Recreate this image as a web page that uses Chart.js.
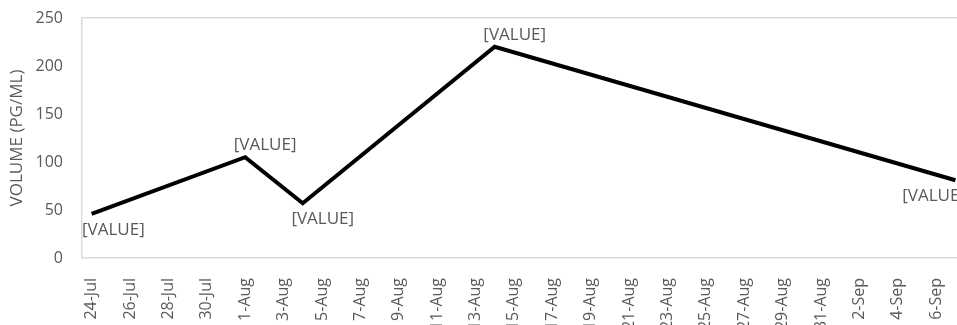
<!DOCTYPE html>
<html>
<head>
<meta charset="utf-8">
<script src="https://cdn.jsdelivr.net/npm/chart.js@4"></script>
<style>
  html, body { margin: 0; padding: 0; background: #fff; overflow: hidden; }
  #wrap { width: 965px; height: 325px; }
</style>
</head>
<body>
<div id="wrap"><canvas id="volChart"></canvas></div>
<script>
// every day on the axis, 24-Jul .. 7-Sep
const days = ['24-Jul','25-Jul','26-Jul','27-Jul','28-Jul','29-Jul','30-Jul','31-Jul',
  '1-Aug','2-Aug','3-Aug','4-Aug','5-Aug','6-Aug','7-Aug','8-Aug','9-Aug','10-Aug',
  '11-Aug','12-Aug','13-Aug','14-Aug','15-Aug','16-Aug','17-Aug','18-Aug','19-Aug',
  '20-Aug','21-Aug','22-Aug','23-Aug','24-Aug','25-Aug','26-Aug','27-Aug','28-Aug',
  '29-Aug','30-Aug','31-Aug','1-Sep','2-Sep','3-Sep','4-Sep','5-Sep','6-Sep','7-Sep'];

// measured samples
const sampleDates = ['24-Jul', '1-Aug', '4-Aug', '14-Aug', '7-Sep'];
const volumes = [46, 105, 57, 220, 81];
const pointLabel = '[VALUE]';

const yTicks = [0, 50, 100, 150, 200, 250];

const txt = '#595959';
const edge = '#d9d9d9';

// Excel style data labels: above peaks, below the rest, kept inside the plot
const valueLabels = {
  id: 'valueLabels',
  afterDatasetsDraw(chart){
    const ctx = chart.ctx;
    const area = chart.chartArea;
    const pts = chart.getDatasetMeta(0).data;
    ctx.save();
    ctx.font = '17px "Open Sans"';
    ctx.fillStyle = txt;
    ctx.textAlign = 'center';
    ctx.textBaseline = 'middle';
    pts.forEach(function(p, i){
      const v = volumes[i];
      const prev = i > 0 ? volumes[i-1] : -Infinity;
      const next = i < volumes.length - 1 ? volumes[i+1] : -Infinity;
      const up = v > prev && v > next;
      const w = ctx.measureText(pointLabel).width;
      let x = p.x + 20;
      x = Math.max(area.left + w/2, Math.min(area.right - w/2, x));
      const y = up ? p.y - 12 : p.y + 16;
      ctx.fillText(pointLabel, x, y);
    });
    ctx.restore();
  }
};

new Chart('volChart', {
  type: 'line',
  data: {
    labels: days,
    datasets: [{
      label: 'Volume',
      data: sampleDates.map(function(d, i){ return {x: d, y: volumes[i]}; }),
      borderColor: '#000',
      borderWidth: 4,
      borderJoinStyle: 'miter',
      pointRadius: 0,
      tension: 0,
      fill: false
    }]
  },
  options: {
    responsive: true,
    maintainAspectRatio: false,
    animation: false,
    layout: { padding: { top: 18, left: 0, right: 0, bottom: 0 } },
    plugins: {
      legend: { display: false },
      tooltip: { enabled: false }
    },
    scales: {
      x: {
        type: 'category',
        offset: true,
        afterFit: function(axis){
          axis.paddingLeft = 0;
          axis.paddingRight = 0;
          axis.height = 67;
        },
        grid: { display: false, drawTicks: false },
        border: { display: true, color: edge, width: 1.5 },
        ticks: {
          autoSkip: false,
          minRotation: 90,
          maxRotation: 90,
          padding: 20,
          color: txt,
          font: { family: 'Open Sans', size: 16 },
          callback: function(val, idx){ return idx % 2 === 0 ? days[idx] : ''; }
        }
      },
      y: {
        min: 0,
        max: 250,
        afterBuildTicks: function(axis){ axis.ticks = yTicks.map(function(v){ return {value: v}; }); },
        afterFit: function(axis){
          axis.paddingTop = 0;
          axis.paddingBottom = 0;
          axis.width = 82;
        },
        grid: {
          drawTicks: false,
          lineWidth: 1.5,
          color: function(c){ return c.tick && c.tick.value === 250 ? edge : 'rgba(0,0,0,0)'; }
        },
        border: { display: true, color: edge, width: 1.5 },
        ticks: {
          padding: 19,
          color: txt,
          font: { family: 'Open Sans', size: 16 }
        },
        title: {
          display: true,
          text: 'VOLUME (PG/ML)',
          color: txt,
          padding: { top: 7, bottom: 8 },
          font: { family: 'Open Sans', size: 17 }
        }
      }
    }
  },
  plugins: [valueLabels]
});
</script>
</body>
</html>
